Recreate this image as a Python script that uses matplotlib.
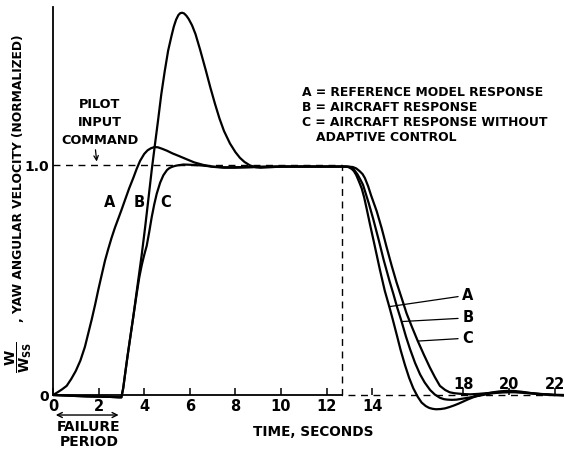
import numpy as np
import matplotlib
matplotlib.use('Agg')
import matplotlib.pyplot as plt
from matplotlib import font_manager

# curve A = reference model response
t_a = [0, 0.2, 0.4, 0.6, 0.8, 1.0, 1.2, 1.4, 1.55, 1.7, 1.85, 1.99, 2.14, 2.28, 2.42, 2.57, 2.72,
       2.87, 3.0, 3.16, 3.34, 3.52, 3.67, 3.82, 4.0, 4.15, 4.3, 4.45, 4.6, 4.8, 5.0, 5.25, 5.5, 5.86,
       6.2, 6.6, 7.0, 7.5, 8.0, 9.0, 10, 11, 12, 12.8, 12.95, 13.1, 13.2, 13.3, 13.42, 13.54, 13.65,
       13.75, 13.9, 14.1, 14.34, 14.55, 14.75, 14.9, 15.07, 15.25, 15.44, 15.62, 15.8, 16.0, 16.17,
       16.35, 16.5, 16.65, 16.8, 17.0, 17.2, 17.4, 17.6, 17.8, 18.0, 18.2, 18.4, 18.6, 18.8, 19.05,
       19.3, 19.6, 19.9, 20.2, 20.5, 20.8, 21.1, 21.5, 22.0, 22.4]
v_a = [0, 0.012, 0.025, 0.04, 0.07, 0.105, 0.15, 0.21, 0.27, 0.33, 0.395, 0.46, 0.525, 0.585, 0.635, 0.685, 0.73,
       0.77, 0.805, 0.85, 0.9, 0.945, 0.985, 1.02, 1.05, 1.066, 1.075, 1.08, 1.079, 1.072, 1.064, 1.052, 1.042, 1.027,
       1.013, 1.002, 0.994, 0.99, 0.99, 0.993, 0.995, 0.995, 0.995, 0.995, 0.993, 0.985, 0.975, 0.958, 0.93, 0.9, 0.86,
       0.815, 0.745, 0.655, 0.545, 0.455, 0.385, 0.33, 0.265, 0.195, 0.13, 0.075, 0.03, -0.008, -0.033,
       -0.048, -0.056, -0.06, -0.062, -0.061, -0.058, -0.052, -0.045, -0.037, -0.028, -0.019, -0.011, -0.004, 0.002, 0.007,
       0.012, 0.016, 0.018, 0.018, 0.015, 0.011, 0.007, 0.003, 0.0, -0.002]

# curve B = aircraft response
t_b = [0, 0.5, 1, 1.5, 2, 2.5, 2.9, 3.0, 3.08, 3.16, 3.27, 3.38, 3.52, 3.67, 3.78, 3.89, 4.04, 4.18,
       4.33, 4.47, 4.6, 4.75, 4.9, 5.05, 5.2, 5.3, 5.4, 5.5, 5.58, 5.66, 5.75, 5.85, 5.95, 6.1, 6.25,
       6.45, 6.7, 6.9, 7.1, 7.3, 7.5, 7.76, 8.0, 8.2, 8.4, 8.64, 8.9, 9.1, 9.5, 10, 11, 12, 12.9, 13.05,
       13.2, 13.35, 13.5, 13.6, 13.85, 14.05, 14.3, 14.5, 14.75, 14.93, 15.1, 15.29, 15.48, 15.66, 15.88,
       16.1, 16.3, 16.54, 16.75, 16.97, 17.15, 17.3, 17.5, 17.7, 17.95, 18.2, 18.45, 18.7, 19.0, 19.3,
       19.65, 20.0, 20.3, 20.6, 21.2, 22.0, 22.4]
v_b = [0, -0.002, -0.004, -0.006, -0.007, -0.008, -0.01, -0.01, 0.03, 0.09, 0.17, 0.245, 0.34, 0.45, 0.53, 0.61, 0.73, 0.85,
       0.98, 1.09, 1.19, 1.31, 1.41, 1.5, 1.565, 1.605, 1.635, 1.655, 1.663, 1.665, 1.662, 1.652, 1.638, 1.61, 1.572,
       1.505, 1.415, 1.34, 1.27, 1.205, 1.15, 1.096, 1.058, 1.033, 1.015, 1.0, 0.992, 0.99, 0.992, 0.995, 0.995, 0.995, 0.995, 0.993,
       0.982, 0.962, 0.935, 0.915, 0.835, 0.765, 0.67, 0.59, 0.5, 0.44, 0.38, 0.32, 0.255, 0.2, 0.14,
       0.09, 0.055, 0.022, 0.002, -0.012, -0.018, -0.02, -0.021, -0.02, -0.016, -0.012, -0.007, -0.003, 0.003, 0.008,
       0.011, 0.012, 0.012, 0.01, 0.005, 0.0, 0.0]

# curve C = aircraft response without adaptive control
t_c = [0, 0.5, 1, 1.5, 2, 2.5, 2.9, 3.0, 3.08, 3.16, 3.27, 3.38, 3.52, 3.67, 3.78, 3.89, 4.0, 4.11, 4.22,
       4.33, 4.44, 4.55, 4.7, 4.84, 5.0, 5.1, 5.2, 5.32, 5.45, 5.72, 6.0, 6.5, 7.0, 7.5, 8.5, 9.5, 11,
       12.9, 13.15, 13.3, 13.45, 13.58, 13.68, 13.82, 13.95, 14.2, 14.42, 14.63, 14.85, 15.07, 15.3,
       15.51, 15.75, 16.0, 16.27, 16.53, 16.75, 16.97, 17.2, 17.4, 17.6, 17.8, 18.05, 18.3, 18.65, 19.0,
       19.4, 19.8, 20.2, 20.5, 20.85, 21.2, 22.0, 22.4]
v_c = [0, -0.002, -0.004, -0.006, -0.007, -0.008, -0.01, -0.01, 0.03, 0.09, 0.17, 0.245, 0.34, 0.44, 0.51, 0.565, 0.61, 0.65, 0.71,
       0.775, 0.83, 0.877, 0.925, 0.957, 0.98, 0.988, 0.993, 0.997, 1.0, 1.004, 1.003, 1.0, 0.995, 0.992, 0.993, 0.995, 0.995,
       0.995, 0.993, 0.987, 0.975, 0.962, 0.945, 0.91, 0.87, 0.8, 0.725, 0.645, 0.565, 0.49, 0.42,
       0.355, 0.295, 0.235, 0.175, 0.12, 0.078, 0.04, 0.022, 0.012, 0.008, 0.006, 0.004, 0.003, 0.005, 0.008,
       0.011, 0.014, 0.014, 0.012, 0.009, 0.006, 0.001, 0.0]

# pilot input command (step)
t_cmd = [0, 12.66, 12.66, 22.4]
v_cmd = [1.0, 1.0, 0.0, 0.0]

xticks_low = [0, 2, 4, 6, 8, 10, 12, 14]
xticks_high = [18, 20, 22]

legend_lines = ['A = REFERENCE MODEL RESPONSE', 'B = AIRCRAFT RESPONSE',
                'C = AIRCRAFT RESPONSE WITHOUT']

plt.rcParams['font.family'] = ['DejaVu Sans']
plt.rcParams['font.weight'] = 'bold'
plt.rcParams['mathtext.default'] = 'bf'

# narrow lettering for the long y label if it is there
names = set(f.name for f in font_manager.fontManager.ttflist)
if 'Liberation Sans Narrow' in names:
    narrow, ysize = 'Liberation Sans Narrow', 11
else:
    narrow, ysize = 'DejaVu Sans', 8.8

fig = plt.figure(figsize=(5.65, 4.5), dpi=100)
ax = fig.add_axes([53/565, 32/450, 510.7/565, 411/450])
ax.set_xlim(0, 22.4)
ax.set_ylim(-0.1, 1.69)

ax.plot(t_cmd, v_cmd, color='black', lw=1.0, ls=(0, (5, 4)))
for t, v in [(t_a, v_a), (t_b, v_b), (t_c, v_c)]:
    ax.plot(t, v, color='black', lw=1.6, solid_joinstyle='round', solid_capstyle='round')

for s in ['top', 'right']:
    ax.spines[s].set_visible(False)
ax.spines['bottom'].set_position(('data', 0))
ax.spines['bottom'].set_bounds(0, 12.66)
ax.spines['left'].set_bounds(0, 1.69)
ax.spines['bottom'].set_linewidth(1.3)
ax.spines['left'].set_linewidth(1.3)

ax.set_xticks(xticks_low)
ax.set_xticklabels([str(x) for x in xticks_low])
ax.set_xticks(xticks_high, minor=True)
ax.tick_params(axis='x', which='both', direction='in', length=5, width=1.1, pad=3, labelsize=10.5)
for x in xticks_high:
    ax.text(x, 0.045, str(x), ha='center', va='center', fontsize=10.5)

ax.set_yticks([0, 1.0])
ax.set_yticklabels(['0', '1.0'])
ax.tick_params(axis='y', length=0, pad=3, labelsize=10)

# labels on the rising curves
ax.text(2.5, 0.84, 'A', ha='center', va='center', fontsize=10.5)
ax.text(3.77, 0.84, 'B', ha='center', va='center', fontsize=10.5)
ax.text(4.96, 0.84, 'C', ha='center', va='center', fontsize=10.5)

# leaders on the falling curves
for lab, xy, yl in [('A', (14.75, 0.385), 0.435), ('B', (15.29, 0.32), 0.336), ('C', (16.0, 0.235), 0.248)]:
    ax.annotate(lab, xy=xy, xytext=(17.95, yl), ha='left', va='center', fontsize=10.5,
                arrowprops=dict(arrowstyle='-', lw=0.9, color='black', shrinkA=1, shrinkB=0))

ax.text(2.06, 1.187, 'PILOT\nINPUT\nCOMMAND', ha='center', va='center', fontsize=9.3,
        linespacing=1.5, multialignment='center')
ax.annotate('', xy=(1.93, 1.005), xytext=(1.85, 1.08),
            arrowprops=dict(arrowstyle='->', lw=0.9, color='black', mutation_scale=8))

for i, line in enumerate(legend_lines):
    ax.text(10.92, 1.317 - i * 0.065, line, ha='left', va='center', fontsize=8.9)
ax.text(11.53, 1.317 - 3 * 0.065, 'ADAPTIVE CONTROL', ha='left', va='center', fontsize=8.9)

ax.annotate('', xy=(0, -0.087), xytext=(3.0, -0.087), annotation_clip=False,
            arrowprops=dict(arrowstyle='<->', lw=1.0, color='black', mutation_scale=9))
ax.text(1.58, -0.172, 'FAILURE\nPERIOD', ha='center', va='center', fontsize=10,
        linespacing=1.05, clip_on=False)
ax.text(11.4, -0.16, 'TIME, SECONDS', ha='center', va='center', fontsize=9.8, clip_on=False)

fig.text(18/565, 1 - 322/450, ', YAW ANGULAR VELOCITY (NORMALIZED)', family=narrow,
         rotation=90, rotation_mode='anchor', ha='left', va='center', fontsize=ysize)
fig.text(19/565, 1 - 357/450, r'$\dfrac{W}{W_{SS}}$',
         rotation=90, ha='center', va='center', fontsize=10)

fig.savefig('out.png', dpi=100)
